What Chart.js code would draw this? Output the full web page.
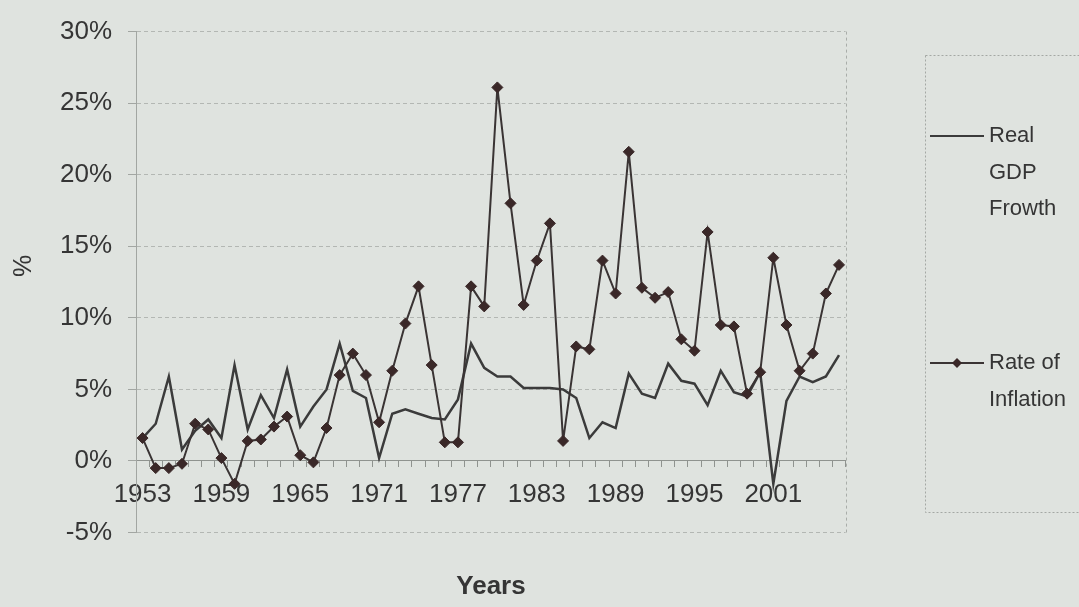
<!DOCTYPE html>
<html>
<head>
<meta charset="utf-8">
<style>
  html, body { margin: 0; padding: 0; background: #dfe3df; }
  #wrap { width: 1079px; height: 607px; }
</style>
<script src="https://cdn.jsdelivr.net/npm/chart.js@4.4.1/dist/chart.umd.min.js"></script>
</head>
<body>
<div id="wrap"><canvas id="c" width="1079" height="607"></canvas></div>
<script>
// Annual series, 1953-2006 (percent)
const years = [
  1953, 1954, 1955, 1956, 1957, 1958, 1959, 1960, 1961, 1962,
  1963, 1964, 1965, 1966, 1967, 1968, 1969, 1970, 1971, 1972,
  1973, 1974, 1975, 1976, 1977, 1978, 1979, 1980, 1981, 1982,
  1983, 1984, 1985, 1986, 1987, 1988, 1989, 1990, 1991, 1992,
  1993, 1994, 1995, 1996, 1997, 1998, 1999, 2000, 2001, 2002,
  2003, 2004, 2005, 2006
];

const gdpGrowth = [
  1.6, 2.6, 5.9, 0.8, 2.1, 2.9, 1.6, 6.7, 2.2, 4.6,
  3.0, 6.4, 2.4, 3.8, 5.0, 8.2, 4.9, 4.4, 0.2, 3.3,
  3.6, 3.3, 3.0, 2.9, 4.3, 8.2, 6.5, 5.9, 5.9, 5.1,
  5.1, 5.1, 5.0, 4.4, 1.6, 2.7, 2.3, 6.1, 4.7, 4.4,
  6.8, 5.6, 5.4, 3.9, 6.3, 4.8, 4.5, 6.2, -1.6, 4.2,
  5.9, 5.5, 5.9, 7.4
];

const inflation = [
  1.6, -0.5, -0.5, -0.2, 2.6, 2.2, 0.2, -1.6, 1.4, 1.5,
  2.4, 3.1, 0.4, -0.1, 2.3, 6.0, 7.5, 6.0, 2.7, 6.3,
  9.6, 12.2, 6.7, 1.3, 1.3, 12.2, 10.8, 26.1, 18.0, 10.9,
  14.0, 16.6, 1.4, 8.0, 7.8, 14.0, 11.7, 21.6, 12.1, 11.4,
  11.8, 8.5, 7.7, 16.0, 9.5, 9.4, 4.7, 6.2, 14.2, 9.5,
  6.3, 7.5, 11.7, 13.7
];

const yMin = -5;
const yMax = 30;
const yStep = 5;
const xLabelEvery = 6;

const seriesNames = ['Real GDP Frowth', 'Rate of Inflation'];
const legendText = [['Real', 'GDP', 'Frowth'], ['Rate of', 'Inflation']];

const FONT = "'Liberation Sans', Arial, Helvetica, sans-serif";
const TEXT = '#353535';
const BG = '#dfe3df';

// Canvas background
const backdrop = {
  id: 'backdrop',
  beforeDraw(chart) {
    const ctx = chart.ctx;
    ctx.save();
    ctx.fillStyle = BG;
    ctx.fillRect(0, 0, chart.width, chart.height);
    ctx.restore();
  }
};

// Right edge of the plot frame, axis titles and the boxed legend
const decorations = {
  id: 'decorations',
  beforeDatasetsDraw(chart) {
    const {ctx, chartArea: a} = chart;
    ctx.save();
    ctx.strokeStyle = '#a9ada9';
    ctx.lineWidth = 1;
    ctx.setLineDash([3, 3]);
    ctx.beginPath();
    ctx.moveTo(Math.round(a.right) + 0.5, a.top);
    ctx.lineTo(Math.round(a.right) + 0.5, a.bottom);
    ctx.stroke();
    ctx.restore();
  },
  afterDraw(chart) {
    const ctx = chart.ctx;
    ctx.save();
    // axis titles
    ctx.fillStyle = TEXT;
    ctx.textAlign = 'center';
    ctx.textBaseline = 'middle';
    ctx.font = 'bold 26px ' + FONT;
    ctx.fillText('Years', 491, 587);
    ctx.save();
    ctx.translate(24, 266);
    ctx.rotate(-Math.PI / 2);
    ctx.font = '25px ' + FONT;
    ctx.fillText('%', 0, 0);
    ctx.restore();

    // legend frame
    ctx.strokeStyle = '#a4a8a4';
    ctx.lineWidth = 1;
    ctx.setLineDash([2, 2]);
    ctx.strokeRect(925.5, 55.5, 200, 457);
    ctx.setLineDash([]);

    // legend entries
    const rows = [136, 363];
    const lineGap = 36.5;
    chart.data.datasets.forEach((ds, i) => {
      const y = rows[i];
      ctx.strokeStyle = ds.borderColor;
      ctx.lineWidth = 2;
      ctx.beginPath();
      ctx.moveTo(930, y);
      ctx.lineTo(984, y);
      ctx.stroke();
      if (ds.pointRadius > 0) {
        ctx.fillStyle = ds.pointBackgroundColor;
        ctx.beginPath();
        ctx.moveTo(957, y - 5);
        ctx.lineTo(962, y);
        ctx.lineTo(957, y + 5);
        ctx.lineTo(952, y);
        ctx.closePath();
        ctx.fill();
      }
      ctx.fillStyle = TEXT;
      ctx.font = '22px ' + FONT;
      ctx.textAlign = 'left';
      ctx.textBaseline = 'middle';
      legendText[i].forEach((t, k) => ctx.fillText(t, 989, y + k * lineGap));
    });
    ctx.restore();
  }
};

new Chart(document.getElementById('c'), {
  type: 'line',
  data: {
    labels: years,
    datasets: [
      {
        label: seriesNames[0],
        data: gdpGrowth,
        borderColor: '#3b3b3b',
        borderWidth: 2.5,
        pointRadius: 0,
        tension: 0,
        order: 1
      },
      {
        label: seriesNames[1],
        data: inflation,
        borderColor: '#3a3434',
        borderWidth: 2,
        pointStyle: 'rectRot',
        pointRadius: 5.5,
        pointBackgroundColor: '#3a2828',
        pointBorderColor: '#3a2828',
        pointBorderWidth: 1,
        tension: 0,
        order: 0
      }
    ]
  },
  options: {
    responsive: false,
    animation: false,
    devicePixelRatio: 1,
    layout: { padding: { left: 0, right: 233.4, top: 24.5, bottom: 74.5 } },
    plugins: {
      legend: { display: false },
      title: { display: false },
      tooltip: { enabled: false }
    },
    scales: {
      x: {
        type: 'category',
        offset: true,
        position: { y: 0 },
        grid: {
          drawOnChartArea: false,
          drawTicks: true,
          tickLength: 6,
          color: '#8f938f',
          offset: true
        },
        border: { display: true, color: '#8f938f', width: 1 },
        ticks: {
          autoSkip: false,
          maxRotation: 0,
          minRotation: 0,
          padding: 12,
          color: TEXT,
          font: { family: FONT, size: 26 },
          callback: (v, i) => (i % xLabelEvery === 0 ? String(years[i]) : '')
        }
      },
      y: {
        min: yMin,
        max: yMax,
        afterFit: s => { s.width = 136; },
        grid: {
          color: '#b3b7b3',
          tickColor: '#a2a6a2',
          tickLength: 8,
          drawTicks: true
        },
        border: { display: true, color: '#a2a6a2', width: 1, dash: [4, 3] },
        ticks: {
          stepSize: yStep,
          padding: 16,
          color: TEXT,
          font: { family: FONT, size: 26 },
          callback: v => v + '%'
        }
      }
    }
  },
  plugins: [backdrop, decorations]
});
</script>
</body>
</html>
